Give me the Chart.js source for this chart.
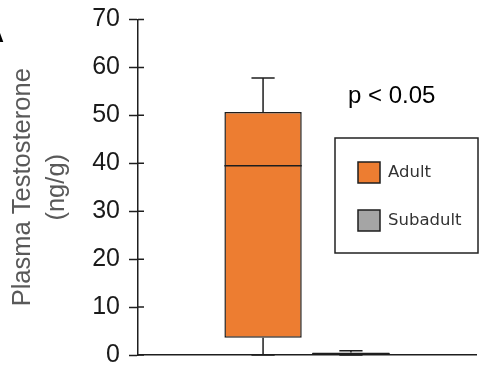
<!DOCTYPE html>
<html>
<head>
<meta charset="utf-8">
<script src="https://cdn.jsdelivr.net/npm/chart.js@4.4.1/dist/chart.umd.min.js"></script>
<style>
  html, body { margin: 0; padding: 0; background: #fff; }
  #wrap { width: 480px; height: 370px; }
</style>
</head>
<body>
<div id="wrap"><canvas id="boxchart"></canvas></div>
<script>
// box plot values per group
const groups = ['Adult', 'Subadult'];
const whiskerLow = [0, 0];
const quartile1 = [3.6, 0];
const medians = [39.5, 0.25];
const quartile3 = [50.7, 0.5];
const whiskerHigh = [57.8, 0.9];
const groupColors = ['#ED7D31', '#A5A5A5'];
const yMax = 70;
const yStep = 10;
const pLabel = 'p < 0.05';

const edge = '#1e1e1e';

const boxExtras = {
  id: 'boxExtras',
  afterDatasetsDraw(chart) {
    const ctx = chart.ctx;
    const y = chart.scales.y;
    ctx.save();
    ctx.strokeStyle = edge;
    ctx.lineWidth = 1.5;
    chart.data.datasets.forEach((ds, i) => {
      const bar = chart.getDatasetMeta(i).data[0];
      const half = bar.width / 2;
      const cap = bar.width * 0.15;
      const yMed = y.getPixelForValue(medians[i]);
      const yQ1 = y.getPixelForValue(quartile1[i]);
      const yQ3 = y.getPixelForValue(quartile3[i]);
      const yLo = y.getPixelForValue(whiskerLow[i]);
      const yHi = y.getPixelForValue(whiskerHigh[i]);
      ctx.beginPath();
      ctx.moveTo(bar.x - half, yMed); ctx.lineTo(bar.x + half, yMed);
      ctx.moveTo(bar.x, yQ3); ctx.lineTo(bar.x, yHi);
      ctx.moveTo(bar.x - cap, yHi); ctx.lineTo(bar.x + cap, yHi);
      ctx.moveTo(bar.x, yQ1); ctx.lineTo(bar.x, yLo);
      ctx.moveTo(bar.x - cap, yLo); ctx.lineTo(bar.x + cap, yLo);
      ctx.stroke();
    });
    ctx.restore();
  },
  afterDraw(chart) {
    const ctx = chart.ctx;
    const y = chart.scales.y;
    const area = chart.chartArea;
    ctx.save();
    // inner half of the cross ticks
    ctx.strokeStyle = edge;
    ctx.lineWidth = 1.5;
    ctx.beginPath();
    y.ticks.forEach((t, i) => {
      const py = y.getPixelForTick(i);
      ctx.moveTo(area.left, py);
      ctx.lineTo(area.left + 6, py);
    });
    ctx.stroke();

    // significance note
    ctx.fillStyle = '#000';
    ctx.font = '24px "Liberation Sans"';
    ctx.textBaseline = 'alphabetic';
    ctx.fillText(pLabel, 348, 103);

    // panel letter, cut at the edge
    ctx.font = 'bold 22px "Liberation Sans"';
    ctx.textAlign = 'right';
    ctx.fillText('A', 4, 42);
    ctx.textAlign = 'left';

    // legend box
    ctx.strokeStyle = '#222';
    ctx.lineWidth = 1.5;
    ctx.strokeRect(335, 138, 143, 115);
    ctx.font = '16.5px "DejaVu Sans"';
    ctx.textBaseline = 'middle';
    groups.forEach((g, i) => {
      const top = 162 + i * 48;
      ctx.fillStyle = groupColors[i];
      ctx.fillRect(358, top, 22, 21);
      ctx.strokeStyle = edge;
      ctx.strokeRect(358, top, 22, 21);
      ctx.fillStyle = '#333';
      ctx.fillText(g, 388, top + 11);
    });
    ctx.restore();
  }
};

const ctx = document.getElementById('boxchart');

new Chart(ctx, {
  type: 'bar',
  data: {
    labels: [''],
    datasets: groups.map((g, i) => ({
      label: g,
      data: [[quartile1[i], quartile3[i]]],
      backgroundColor: groupColors[i],
      borderColor: edge,
      borderWidth: 1.5,
      borderSkipped: false,
      categoryPercentage: 0.52,
      barPercentage: 0.88
    }))
  },
  options: {
    responsive: true,
    maintainAspectRatio: false,
    animation: false,
    layout: { padding: { top: 19.5, right: 4, bottom: 15, left: 0 } },
    plugins: {
      legend: { display: false },
      tooltip: { enabled: false }
    },
    scales: {
      x: {
        ticks: { display: false },
        grid: { display: false },
        border: { color: edge, width: 1.5 },
        afterFit(scale) { scale.height = 0; }
      },
      y: {
        min: 0,
        max: yMax,
        ticks: {
          stepSize: yStep,
          padding: 9,
          color: '#1a1a1a',
          font: { family: '"Liberation Sans"', size: 25 }
        },
        grid: {
          drawOnChartArea: false,
          tickLength: 9,
          tickColor: edge,
          tickWidth: 1.5
        },
        border: { color: edge, width: 1.5 },
        title: {
          display: true,
          text: ['Plasma Testosterone', '(ng/g)'],
          color: '#595959',
          padding: { top: 6, bottom: 0 },
          font: { family: '"Liberation Sans"', size: 25.5, lineHeight: 1.32 }
        },
        afterFit(scale) {
          scale.width = 138;
          scale.paddingTop = 0;
          scale.paddingBottom = 0;
        }
      }
    }
  },
  plugins: [boxExtras]
});
</script>
</body>
</html>
